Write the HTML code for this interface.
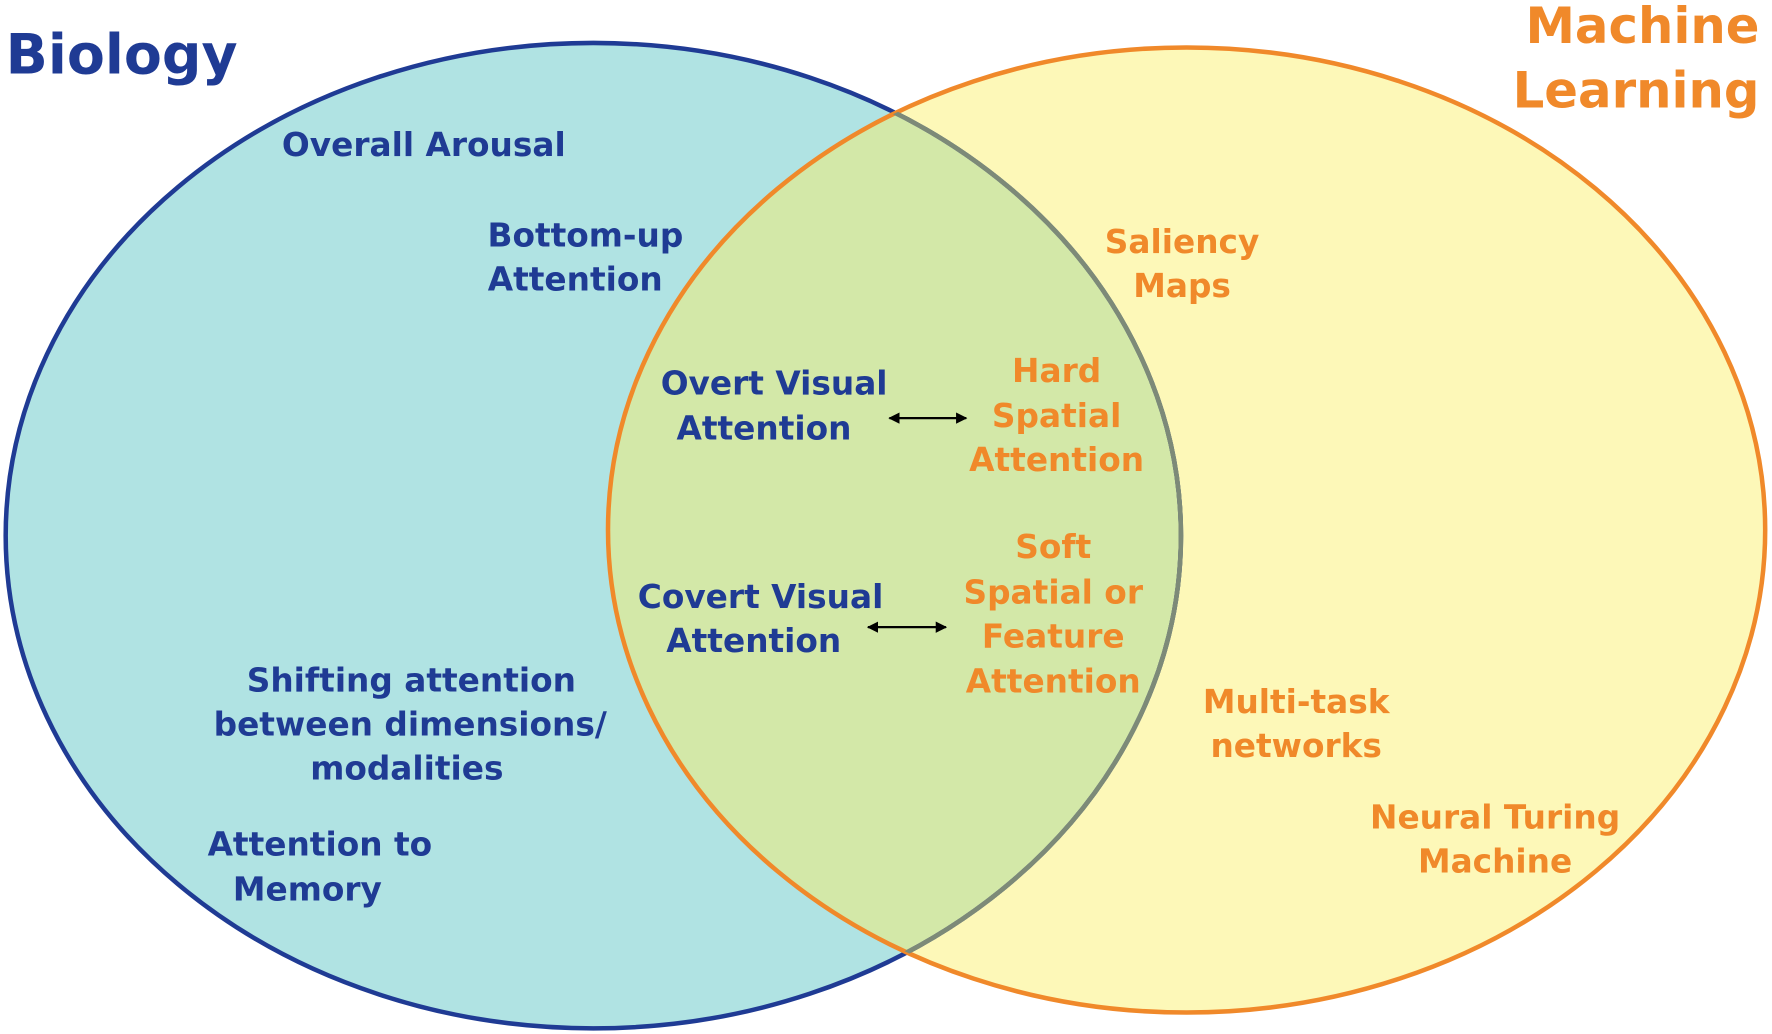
<!DOCTYPE html>
<html><head><meta charset="utf-8"><style>
html,body{margin:0;padding:0;background:#fff;}
svg{display:block;}
text{font-family:"DejaVu Sans","Liberation Sans",sans-serif;font-weight:bold;}
.b{fill:#1f3b94;}
.o{fill:#f0892a;}
</style></head><body>
<svg width="1772" height="1034" viewBox="0 0 1568 915" xmlns="http://www.w3.org/2000/svg">
<defs>
<clipPath id="oc"><ellipse cx="1050" cy="469" rx="512" ry="427"/></clipPath>
<marker id="ah" markerWidth="10" markerHeight="10" refX="9" refY="5" orient="auto-start-reverse" markerUnits="userSpaceOnUse"><path d="M0,0 L10,5 L0,10 z" fill="#000"/></marker>
</defs>
<rect width="1568" height="915" fill="#fff"/>
<ellipse cx="525" cy="474" rx="520" ry="436" fill="#b0e3e3"/>
<ellipse cx="1050" cy="469" rx="512" ry="427" fill="#fdf8b8"/>
<ellipse cx="525" cy="474" rx="520" ry="436" fill="#d3e8a8" clip-path="url(#oc)"/>
<ellipse cx="525" cy="474" rx="520" ry="436" fill="none" stroke="#1f3b94" stroke-width="4"/>
<ellipse cx="525" cy="474" rx="520" ry="436" fill="none" stroke="#7d8a78" stroke-width="4" clip-path="url(#oc)"/>
<path d="M 0 0" />
<ellipse cx="1050" cy="469" rx="512" ry="427" fill="none" stroke="#f0892a" stroke-width="4" clip-path="url(#bl)"/>
<clipPath id="bl"><rect x="0" y="0" width="0" height="0"/></clipPath>
<ellipse cx="1050" cy="469" rx="512" ry="427" fill="none" stroke="#f0892a" stroke-width="4"/>
<ellipse cx="525" cy="474" rx="520" ry="436" fill="none" stroke="#7d8a78" stroke-width="4" clip-path="url(#oc)"/>

<text class="b" x="5" y="65" font-size="49">Biology</text>
<text class="o" x="1557" y="38" font-size="44" text-anchor="end">Machine</text>
<text class="o" x="1557" y="95" font-size="44" text-anchor="end">Learning</text>

<g font-size="29" text-anchor="middle">
<text class="b" x="375" y="138">Overall Arousal</text>
<text class="b" x="518" y="218">Bottom-up</text>
<text class="b" x="509" y="257">Attention</text>
<text class="b" x="685" y="349">Overt Visual</text>
<text class="b" x="676" y="389">Attention</text>
<text class="b" x="673" y="538">Covert Visual</text>
<text class="b" x="667" y="577">Attention</text>
<text class="b" x="364" y="612">Shifting attention</text>
<text class="b" x="363" y="651">between dimensions/</text>
<text class="b" x="360" y="690">modalities</text>
<text class="b" x="283" y="757">Attention to</text>
<text class="b" x="272" y="797">Memory</text>

<text class="o" x="935" y="338">Hard</text>
<text class="o" x="935" y="378">Spatial</text>
<text class="o" x="935" y="417">Attention</text>
<text class="o" x="1046" y="224">Saliency</text>
<text class="o" x="1046" y="263">Maps</text>
<text class="o" x="932" y="494">Soft</text>
<text class="o" x="932" y="534">Spatial or</text>
<text class="o" x="932" y="573">Feature</text>
<text class="o" x="932" y="613">Attention</text>
<text class="o" x="1147" y="631">Multi-task</text>
<text class="o" x="1147" y="670">networks</text>
<text class="o" x="1323" y="733">Neural Turing</text>
<text class="o" x="1323" y="772">Machine</text>
</g>

<line x1="787" y1="370" x2="855" y2="370" stroke="#000" stroke-width="2" marker-start="url(#ah)" marker-end="url(#ah)"/>
<line x1="768" y1="555" x2="837" y2="555" stroke="#000" stroke-width="2" marker-start="url(#ah)" marker-end="url(#ah)"/>
</svg>
</body></html>
